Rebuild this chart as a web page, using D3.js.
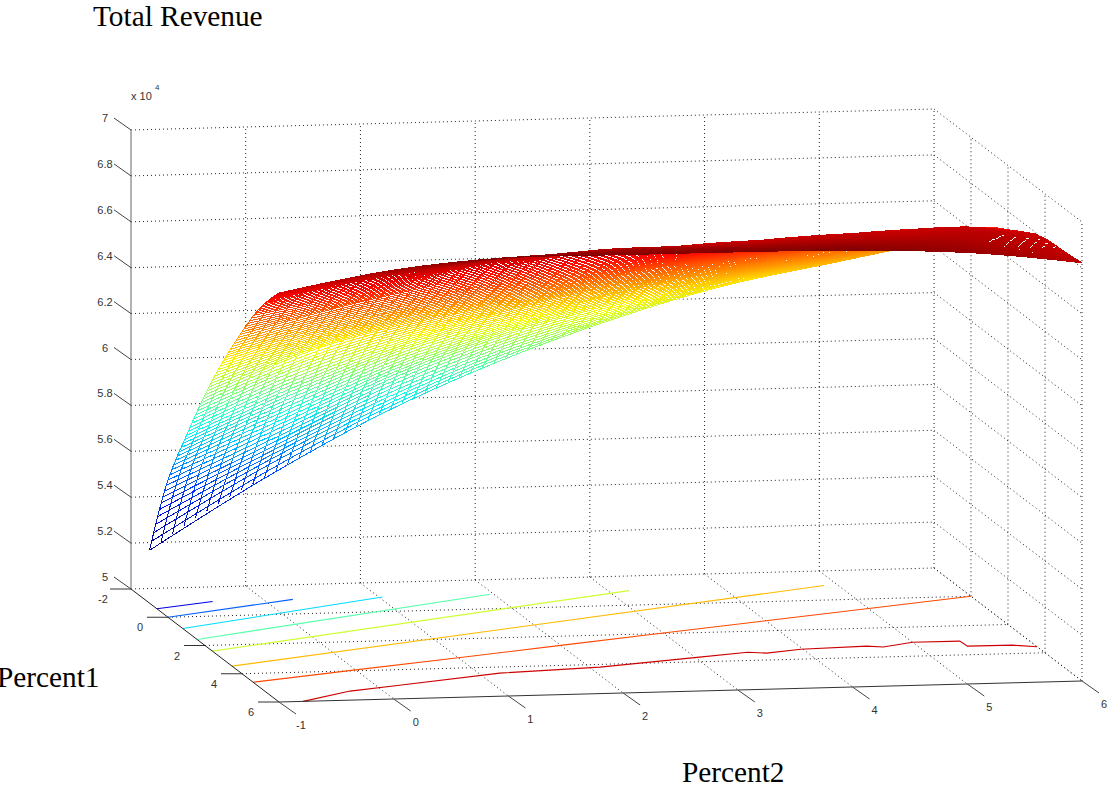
<!DOCTYPE html>
<html>
<head>
<meta charset="utf-8">
<script src="https://cdn.jsdelivr.net/npm/d3@7"></script>
<style>
    html, body { margin: 0; padding: 0; background: #fff; overflow: hidden; }
</style>
</head>
<body>
<script>
// Axis ticks
var xTicks = [-1, 0, 1, 2, 3, 4, 5, 6];
var yTicks = [-2, 0, 2, 4, 6];
var zTicks = [5000, 5200, 5400, 5600, 5800, 6000, 6200, 6400, 6600, 6800, 7000];
var zTickLabels = ["5", "5.2", "5.4", "5.6", "5.8", "6", "6.2", "6.4", "6.6", "6.8", "7"];

// Mesh sample positions, revenue is in tens (5230 = 5.23 x 10^4)
var meshX = d3.range(71).map(function (i) { return -1 + i / 10; });
var meshY = d3.range(71).map(function (i) { return -1 + i / 10; });

// Revenue along Percent1 (y = -1 to 6 by 0.1), one list per Percent2 position
var rowKnotsX = [-1, 0, 1, 2, 3, 4, 5, 5.5, 6];
var zAlongY_xm1 = [5230,5275,5318,5360,5400,5437,5472,5505,5537,5568,5598,5627,5655,5682,5708,5733,5758,5782,5806,5830,5854,5878,5902,5926,5950,5974,5998,6022,6046,6069,6092,6115,6138,6160,6182,6204,6225,6245,6265,6284,6303,6322,6340,6358,6377,6396,6415,6434,6453,6472,6490,6508,6526,6544,6562,6580,6598,6613,6628,6643,6658,6672,6686,6699,6712,6724,6736,6748,6760,6771,6782];
var zAlongY_x0 = [5530,5565,5600,5630,5658,5685,5712,5738,5765,5791,5818,5844,5870,5895,5920,5945,5970,5994,6018,6041,6064,6087,6110,6133,6156,6179,6201,6222,6242,6264,6285,6301,6317,6333,6349,6365,6381,6397,6413,6430,6446,6463,6479,6496,6512,6529,6545,6562,6578,6595,6608,6622,6636,6650,6664,6678,6692,6706,6720,6734,6748,6762,6776,6790,6803,6815,6827,6838,6849,6859,6869];
var zAlongY_x1 = [5793,5818,5843,5868,5893,5918,5943,5968,5992,6015,6037,6058,6079,6100,6121,6142,6163,6184,6204,6222,6240,6258,6275,6292,6309,6326,6343,6360,6377,6393,6408,6423,6438,6453,6468,6483,6498,6513,6528,6543,6558,6573,6588,6602,6617,6632,6647,6662,6677,6692,6707,6722,6737,6752,6767,6781,6794,6806,6817,6827,6836,6845,6853,6861,6868,6875,6882,6889,6896,6903,6910];
var zAlongY_x2 = [6005,6026,6047,6068,6089,6110,6131,6151,6171,6191,6208,6225,6241,6257,6273,6289,6305,6321,6337,6353,6369,6385,6401,6415,6429,6443,6457,6471,6485,6499,6513,6527,6541,6555,6569,6583,6597,6611,6625,6639,6653,6667,6681,6695,6709,6723,6737,6751,6765,6779,6793,6806,6815,6823,6830,6836,6842,6848,6853,6858,6863,6868,6873,6878,6883,6887,6891,6895,6899,6904,6910];
var zAlongY_x3 = [6178,6193,6208,6224,6240,6256,6272,6288,6304,6320,6335,6350,6365,6380,6395,6409,6422,6435,6448,6461,6474,6487,6500,6513,6526,6539,6552,6565,6578,6591,6603,6615,6626,6638,6649,6661,6672,6684,6695,6707,6719,6730,6742,6753,6765,6776,6788,6799,6805,6810,6815,6820,6825,6830,6835,6840,6845,6850,6855,6860,6865,6870,6875,6880,6885,6889,6893,6897,6901,6905,6909];
var zAlongY_x4 = [6316,6329,6342,6355,6368,6380,6392,6404,6416,6428,6440,6452,6464,6476,6488,6500,6512,6524,6536,6548,6560,6572,6584,6596,6606,6616,6626,6636,6646,6656,6666,6676,6686,6696,6706,6716,6726,6736,6746,6756,6766,6776,6786,6796,6803,6807,6811,6815,6819,6823,6827,6831,6835,6839,6843,6847,6851,6855,6859,6863,6867,6871,6875,6879,6883,6887,6891,6895,6898,6901,6904];
var zAlongY_x5 = [6409,6420,6431,6442,6453,6464,6475,6486,6497,6509,6521,6533,6545,6557,6569,6581,6593,6604,6612,6621,6629,6637,6646,6654,6662,6671,6679,6687,6696,6704,6712,6721,6729,6737,6746,6754,6762,6771,6779,6787,6796,6803,6806,6809,6812,6815,6818,6821,6824,6827,6830,6833,6836,6839,6842,6845,6848,6851,6854,6857,6860,6862,6864,6866,6868,6870,6872,6874,6876,6878,6880];
var zAlongY_x55 = [6455,6466,6477,6488,6499,6510,6521,6532,6543,6554,6565,6574,6583,6592,6601,6610,6619,6628,6637,6646,6655,6662,6669,6676,6683,6690,6697,6704,6711,6718,6725,6733,6740,6748,6755,6763,6770,6778,6785,6793,6800,6803,6806,6809,6812,6815,6818,6821,6824,6827,6830,6831,6832,6833,6834,6835,6836,6837,6838,6839,6840,6841,6843,6844,6846,6847,6849,6850,6852,6853,6855];
var zAlongY_x6 = [6500,6510,6520,6530,6540,6550,6560,6570,6580,6590,6600,6607,6614,6621,6628,6635,6642,6649,6656,6663,6670,6675,6680,6685,6690,6695,6700,6705,6710,6715,6720,6725,6730,6735,6740,6745,6750,6755,6760,6765,6770,6775,6780,6785,6790,6795,6799,6801,6802,6804,6805,6806,6806,6807,6808,6808,6809,6810,6810,6811,6812,6813,6814,6815,6816,6817,6818,6819,6820,6821,6822];
var rowLists = [zAlongY_xm1, zAlongY_x0, zAlongY_x1, zAlongY_x2, zAlongY_x3, zAlongY_x4, zAlongY_x5, zAlongY_x55, zAlongY_x6];

// Revenue along Percent2 (x = -1 to 6 by 0.1), one list per Percent1 position
var colKnotsY = [-1, 0, 1, 2, 3, 4, 5, 6];
var zAlongX_ym1 = [5230,5265,5299,5332,5364,5395,5425,5454,5481,5506,5530,5558,5585,5612,5638,5664,5690,5716,5742,5768,5793,5816,5839,5862,5884,5906,5927,5947,5967,5986,6005,6024,6043,6061,6079,6096,6113,6130,6146,6162,6178,6193,6208,6223,6238,6252,6266,6279,6292,6304,6316,6327,6338,6349,6359,6369,6378,6386,6394,6402,6409,6418,6427,6437,6446,6455,6464,6473,6482,6491,6500];
var zAlongX_y0 = [5598,5621,5644,5667,5689,5711,5733,5755,5776,5797,5818,5840,5862,5884,5906,5928,5950,5972,5994,6016,6037,6055,6073,6091,6109,6126,6143,6160,6176,6192,6208,6222,6236,6249,6262,6275,6287,6299,6311,6323,6335,6346,6357,6368,6379,6389,6399,6409,6419,6430,6440,6449,6458,6467,6476,6485,6493,6501,6508,6515,6521,6530,6539,6548,6557,6565,6573,6580,6587,6594,6600];
var zAlongX_y1 = [5854,5876,5898,5920,5941,5962,5983,6004,6025,6045,6064,6083,6102,6120,6138,6155,6172,6189,6206,6223,6240,6254,6268,6281,6294,6307,6319,6331,6343,6356,6369,6380,6391,6402,6413,6424,6434,6444,6454,6464,6474,6483,6492,6501,6510,6519,6527,6535,6544,6552,6560,6568,6575,6582,6589,6596,6603,6610,6616,6623,6629,6635,6640,6645,6650,6655,6658,6661,6664,6667,6670];
var zAlongX_y2 = [6092,6113,6134,6154,6174,6193,6212,6231,6250,6268,6285,6299,6313,6326,6339,6351,6363,6374,6385,6397,6408,6419,6430,6441,6451,6461,6471,6481,6491,6502,6513,6522,6531,6540,6549,6558,6567,6576,6585,6594,6603,6609,6615,6621,6627,6633,6639,6645,6651,6659,6666,6671,6676,6681,6686,6691,6695,6699,6703,6708,6712,6715,6718,6721,6723,6725,6725,6724,6723,6722,6720];
var zAlongX_y3 = [6303,6318,6333,6347,6362,6376,6390,6404,6418,6432,6446,6457,6468,6479,6490,6501,6512,6523,6535,6547,6558,6568,6578,6588,6598,6608,6618,6628,6638,6646,6653,6660,6667,6674,6681,6687,6693,6700,6706,6713,6719,6724,6729,6734,6739,6744,6749,6753,6757,6762,6766,6769,6772,6775,6778,6781,6784,6787,6790,6793,6796,6797,6798,6799,6800,6800,6796,6790,6785,6778,6770];
var zAlongX_y4 = [6490,6502,6514,6526,6538,6550,6562,6574,6586,6597,6608,6618,6628,6638,6648,6658,6668,6678,6688,6698,6707,6716,6725,6734,6743,6752,6761,6770,6778,6786,6793,6796,6798,6800,6802,6804,6806,6808,6810,6813,6815,6816,6817,6818,6819,6820,6821,6822,6824,6825,6827,6827,6828,6828,6828,6829,6829,6829,6830,6830,6830,6830,6830,6830,6830,6830,6825,6820,6815,6810,6805];
var zAlongX_y5 = [6658,6668,6677,6686,6695,6704,6713,6722,6731,6740,6748,6757,6766,6775,6784,6793,6801,6809,6817,6827,6836,6840,6843,6846,6849,6852,6855,6857,6859,6861,6863,6864,6864,6864,6864,6865,6865,6865,6865,6865,6865,6866,6866,6866,6866,6866,6867,6867,6867,6867,6867,6866,6866,6865,6864,6864,6863,6862,6861,6860,6860,6857,6853,6849,6845,6840,6835,6830,6825,6819,6812];
var zAlongX_y6 = [6782,6792,6801,6810,6819,6828,6836,6844,6852,6861,6869,6875,6880,6884,6888,6892,6896,6900,6903,6907,6910,6911,6911,6912,6912,6912,6912,6911,6911,6911,6910,6910,6910,6910,6910,6910,6910,6910,6910,6909,6909,6909,6909,6908,6908,6907,6907,6906,6906,6905,6904,6903,6902,6900,6898,6896,6894,6891,6888,6884,6880,6875,6870,6865,6860,6855,6849,6843,6836,6829,6822];
var colLists = [zAlongX_ym1, zAlongX_y0, zAlongX_y1, zAlongX_y2, zAlongX_y3, zAlongX_y4, zAlongX_y5, zAlongX_y6];

// Contours on the floor of the box
var contourLevels = [5400, 5600, 5800, 6000, 6200, 6400, 6600, 6800];
var contourX = [
    [-1, -0.45],
    [-1, 0.25],
    [-1, 1.03],
    [-1, 1.97],
    [-1, 3.18],
    [-1, 4.88],
    [-1, 0, 1, 2, 3, 4, 5, 6],
    [-0.79, -0.28, 0.2, 1.18, 2.09, 3.04, 3.5, 3.65, 3.98, 4.57, 4.7, 5, 5.41, 5.42, 5.81, 6]
];
var contourY = [
    [-0.6, -1],
    [0, -1],
    [0.8, -1],
    [1.57, -1],
    [2.4, -1],
    [3.46, -1],
    [4.6, 3.94, 3.29, 2.63, 1.97, 1.31, 0.66, 0],
    [6, 5.38, 5.07, 4.42, 4.19, 3.68, 3.43, 3.53, 3.32, 3.23, 3.32, 3.04, 3.05, 3.41, 3.42, 3.58]
];

// Jet colormap
var jetStops = [0, 0.125, 0.375, 0.625, 0.89, 1];
var jetColors = ["#00008f", "#0000ff", "#00ffff", "#ffff00", "#ff0000", "#800000"];
var colorLimits = [5230, 6910];

// Scales, each axis of the box has a horizontal and a vertical screen part
var originX = 131;
var originY = 589;
var xToLeft = d3.scaleLinear().domain([-1, 6]).range([0, 803]);
var xToTop = d3.scaleLinear().domain([-1, 6]).range([0, -21]);
var yToLeft = d3.scaleLinear().domain([-2, 6]).range([0, 148]);
var yToTop = d3.scaleLinear().domain([-2, 6]).range([0, 113]);
var zToTop = d3.scaleLinear().domain([5000, 7000]).range([0, -459]);

var jet = d3.scaleLinear().domain(jetStops).range(jetColors).clamp(true);
var zColor = d3.scaleLinear().domain(colorLimits).range([0, 1]);

function px(x, y) { return originX + xToLeft(x) + yToLeft(y); }
function py(x, y, z) { return originY + xToTop(x) + yToTop(y) + zToTop(z); }

var svg = d3.select("body")
    .append("svg")
    .attr("width", 1110)
    .attr("height", 787);

var defs = svg.append("defs");

// Dotted grid on the back wall, right wall and floor
function gridLine(a, b) {
    svg.append("line")
        .attr("x1", px(a[0], a[1]))
        .attr("y1", py(a[0], a[1], a[2]))
        .attr("x2", px(b[0], b[1]))
        .attr("y2", py(b[0], b[1], b[2]))
        .attr("stroke", "#222")
        .attr("stroke-width", 1)
        .attr("stroke-dasharray", "1,3");
}

zTicks.forEach(function (z) {
    gridLine([-1, -2, z], [6, -2, z]);
    gridLine([6, -2, z], [6, 6, z]);
});
xTicks.slice(1).forEach(function (x) {
    gridLine([x, -2, 5000], [x, -2, 7000]);
    gridLine([x, -2, 5000], [x, 6, 5000]);
});
yTicks.slice(1).forEach(function (y) {
    gridLine([6, y, 5000], [6, y, 7000]);
    if (y < 6) gridLine([-1, y, 5000], [6, y, 5000]);
});

// Contours
var contourLine = d3.line();
contourLevels.forEach(function (level, i) {
    var pts = contourX[i].map(function (x, k) {
        return [px(x, contourY[i][k]), py(x, contourY[i][k], 5000)];
    });
    svg.append("path")
        .attr("d", contourLine(pts))
        .attr("fill", "none")
        .attr("stroke", jet(zColor(level)))
        .attr("stroke-width", 1.1);
});

// White faces hide the grid behind the mesh
var faces = svg.append("g").attr("fill", "#fff").attr("stroke", "#fff").attr("stroke-width", 0.5);
for (var j = 0; j < meshY.length - 1; j++) {
    var facePts = [];
    rowKnotsX.forEach(function (x, k) {
        facePts.push([px(x, meshY[j]), py(x, meshY[j], rowLists[k][j])]);
    });
    rowKnotsX.slice().reverse().forEach(function (x, k) {
        var n = rowKnotsX.length - 1 - k;
        facePts.push([px(x, meshY[j + 1]), py(x, meshY[j + 1], rowLists[n][j + 1])]);
    });
    faces.append("polygon").attr("points", facePts.join(" "));
}

// One mesh line with its colour following the revenue along it
var meshPath = d3.line().curve(d3.curveCatmullRom);
var gradId = 0;
function meshLine(pts, zs) {
    var id = "mesh" + (gradId++);
    var x0 = pts[0][0];
    var x1 = pts[pts.length - 1][0];
    var grad = defs.append("linearGradient")
        .attr("id", id)
        .attr("gradientUnits", "userSpaceOnUse")
        .attr("x1", x0).attr("y1", 0)
        .attr("x2", x1).attr("y2", 0);
    pts.forEach(function (p, k) {
        grad.append("stop")
            .attr("offset", (p[0] - x0) / (x1 - x0))
            .attr("stop-color", jet(zColor(zs[k])));
    });
    svg.append("path")
        .attr("d", meshPath(pts))
        .attr("fill", "none")
        .attr("stroke", "url(#" + id + ")")
        .attr("stroke-width", 1)
        .attr("shape-rendering", "crispEdges");
}

meshX.forEach(function (x, i) {
    var zs = colLists.map(function (list) { return list[i]; });
    var pts = colKnotsY.map(function (y, k) { return [px(x, y), py(x, y, zs[k])]; });
    meshLine(pts, zs);
});
meshY.forEach(function (y, j) {
    var zs = rowLists.map(function (list) { return list[j]; });
    var pts = rowKnotsX.map(function (x, k) { return [px(x, y), py(x, y, zs[k])]; });
    meshLine(pts, zs);
});

// Axis lines and ticks
function axisLine(x1, y1, x2, y2, color) {
    svg.append("line")
        .attr("x1", x1).attr("y1", y1)
        .attr("x2", x2).attr("y2", y2)
        .attr("stroke", color)
        .attr("stroke-width", 1);
}
function tickLabel(x, y, label) {
    svg.append("text")
        .attr("x", x)
        .attr("y", y)
        .attr("text-anchor", "middle")
        .attr("font-family", "'Liberation Sans', Arial, sans-serif")
        .attr("font-size", 11)
        .attr("fill", "#333")
        .text(label);
}

axisLine(px(-1, -2), py(-1, -2, 5000), px(-1, -2), py(-1, -2, 7000), "#666");
axisLine(px(-1, -2), py(-1, -2, 5000), px(-1, 6), py(-1, 6, 5000), "#222");
axisLine(px(-1, 6), py(-1, 6, 5000), px(6, 6), py(6, 6, 5000), "#333");

zTicks.forEach(function (z, i) {
    var x0 = px(-1, -2);
    var y0 = py(-1, -2, z);
    axisLine(x0, y0, x0 - 17, y0 - 12, "#444");
    tickLabel(x0 - 26, y0 - 8, zTickLabels[i]);
});
yTicks.forEach(function (y) {
    var x0 = px(-1, y);
    var y0 = py(-1, y, 5000);
    axisLine(x0, y0, x0 - 21, y0, "#333");
    tickLabel(x0 - 28, y0 + 14, y);
});
xTicks.forEach(function (x) {
    var x0 = px(x, 6);
    var y0 = py(x, 6, 5000);
    axisLine(x0, y0, x0 + 17, y0 + 12, "#444");
    tickLabel(x0 + 22, y0 + 27, x);
});

// Multiplier above the z axis
svg.append("text")
    .attr("x", 131).attr("y", 100)
    .attr("font-family", "'Liberation Sans', Arial, sans-serif")
    .attr("font-size", 11).attr("fill", "#333")
    .text("x 10");
svg.append("text")
    .attr("x", 155).attr("y", 90)
    .attr("font-family", "'Liberation Sans', Arial, sans-serif")
    .attr("font-size", 8).attr("fill", "#333")
    .text("4");

// Titles
function serifText(x, y, label) {
    svg.append("text")
        .attr("x", x)
        .attr("y", y)
        .attr("font-family", "'Liberation Serif', 'Times New Roman', serif")
        .attr("font-size", 29.3)
        .attr("fill", "#000")
        .text(label);
}
serifText(93, 26, "Total Revenue");
serifText(-3, 687, "Percent1");
serifText(682, 782, "Percent2");
</script>
</body>
</html>
